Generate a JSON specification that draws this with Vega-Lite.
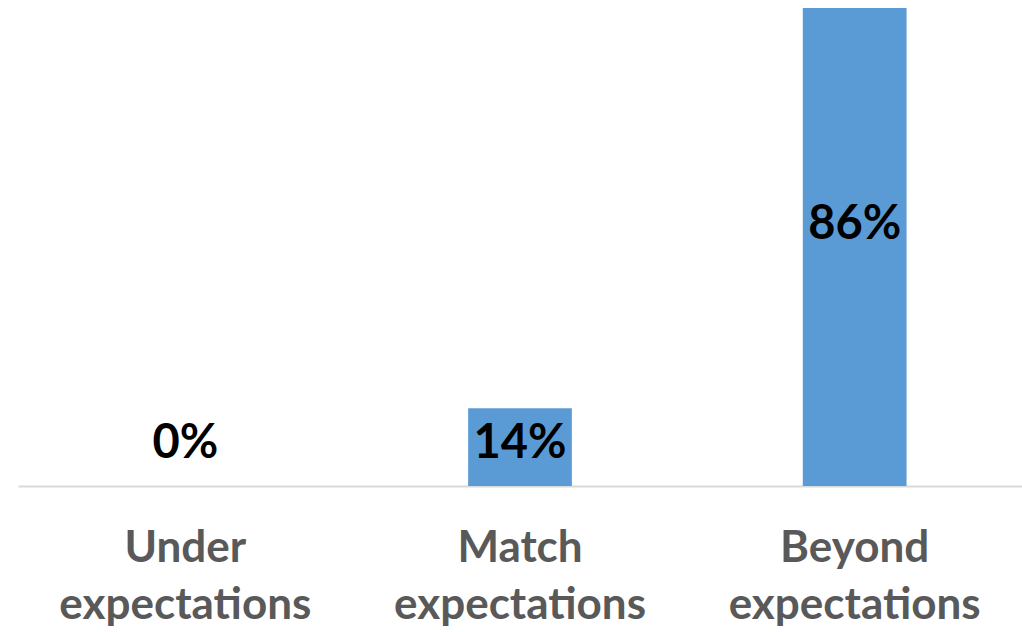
{
  "$schema": "https://vega.github.io/schema/vega-lite/v6.json",
  "width": 1004,
  "height": 478,
  "autosize": "none",
  "padding": {"left": 18, "top": 8, "right": 0, "bottom": 146},
  "background": "white",
  "config": {"view": {"stroke": null}, "font": "Lato"},
  "data": {"values": [
    {"category": "Under expectations", "value": 0.0},
    {"category": "Match expectations", "value": 0.14},
    {"category": "Beyond expectations", "value": 0.86}
  ]},
  "encoding": {
    "x": {"field": "category", "type": "nominal", "sort": null,
      "scale": {"paddingInner": 0.69, "paddingOuter": 0.345},
      "axis": {"title": null, "labelAngle": 0, "ticks": false, "domainColor": "#D9D9D9", "domainWidth": 2,
        "labelFont": "Lato", "labelFontSize": 44, "labelFontWeight": "bold", "labelColor": "#595959",
        "labelPadding": 40, "labelLineHeight": 57, "labelBaseline": "top", "labelLimit": 0,
        "labelExpr": "split(datum.label, ' ')"}}
  },
  "layer": [
    {"mark": {"type": "bar", "color": "#5B9BD5"},
     "encoding": {"y": {"field": "value", "type": "quantitative", "scale": {"domain": [0, 0.86], "nice": false}, "axis": null}}},
    {"transform": [{"filter": "datum.value < 0.5"}],
     "mark": {"type": "text", "font": "Lato", "fontSize": 47, "fontWeight": "bold", "color": "black", "baseline": "middle"},
     "encoding": {"y": {"datum": 0.076, "type": "quantitative"}, "text": {"field": "value", "type": "quantitative", "format": ".0%"}}},
    {"transform": [{"filter": "datum.value >= 0.5"}],
     "mark": {"type": "text", "font": "Lato", "fontSize": 47, "fontWeight": "bold", "color": "black", "baseline": "middle", "dy": 217},
     "encoding": {"y": {"field": "value", "type": "quantitative"}, "text": {"field": "value", "type": "quantitative", "format": ".0%"}}}
  ]
}
